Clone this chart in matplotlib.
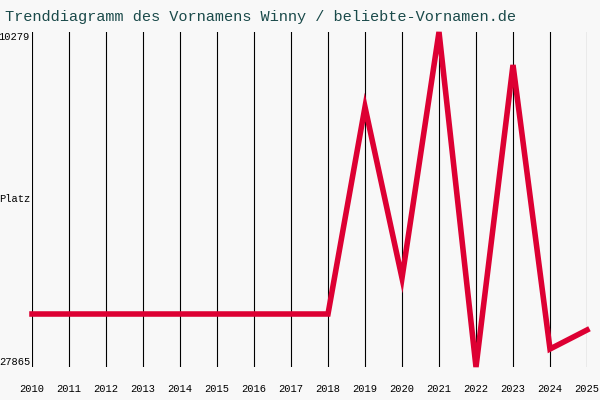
import matplotlib.pyplot as plt

years = list(range(2010, 2026))
ranks = [25083, 25083, 25083, 25083, 25083, 25083, 25083, 25083, 25083,
         14216, 23193, 10279, 27865, 12011, 26920, 25923]
y_top = 10279
y_bottom = 27865

plt.rcParams['font.family'] = ['Liberation Mono', 'DejaVu Sans Mono']

fig = plt.figure(figsize=(6, 4), dpi=100, facecolor='#f8f8f8')
ax = fig.add_axes([32/600, 33/400, 555/600, 335/400])
ax.set_facecolor('#f8f8f8')

for yr in years:
    ax.axvline(yr, color='black', linewidth=0.8, zorder=1)

ax.plot(years, ranks, color='#dd0033', linewidth=4, solid_joinstyle='miter', zorder=3, clip_on=False)

ax.set_xlim(2010, 2025)
ax.set_ylim(y_bottom, y_top)
ax.set_xticks(years)
ax.set_xticklabels([str(y) for y in years], fontsize=7.5)
ax.set_yticks([])
ax.tick_params(length=0, pad=12)
ax.text(-1/555*555/555 - 0.003, 1.0, str(y_top), transform=ax.transAxes, fontsize=7.5, va='top', ha='right')
ax.text(-0.003, 0.0, str(y_bottom), transform=ax.transAxes, fontsize=7.5, va='bottom', ha='right')
ax.text(-0.003, 0.5, 'Platz', transform=ax.transAxes, fontsize=7.5, va='center', ha='right')
for s in ax.spines.values():
    s.set_visible(False)

fig.text(5/600, 1 - 17/400, 'Trenddiagramm des Vornamens Winny / beliebte-Vornamen.de',
         fontsize=11, color='#1a4a4a', va='center', ha='left')

fig.savefig('out.png', dpi=100, facecolor=fig.get_facecolor())
